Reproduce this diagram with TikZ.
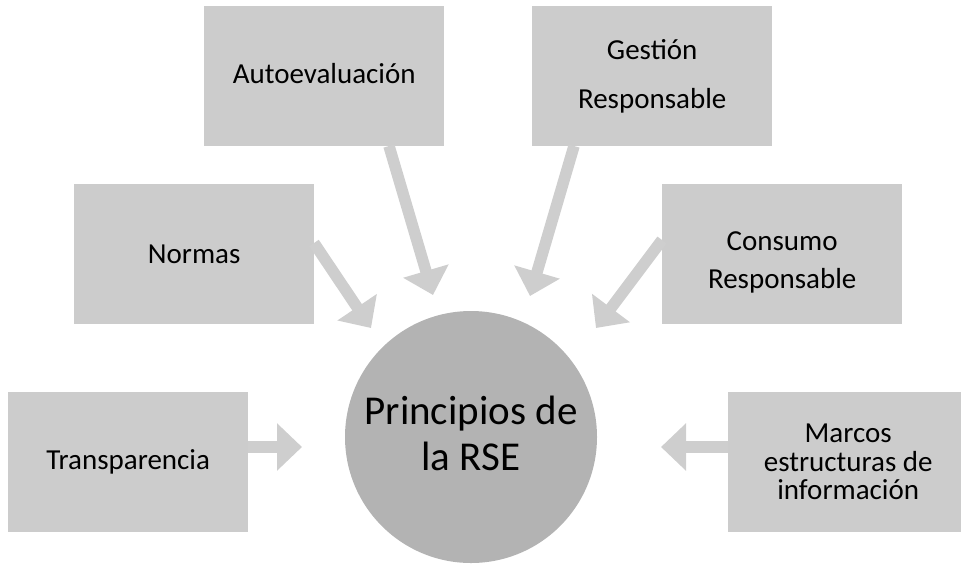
\documentclass[tikz,border=0pt]{standalone}
\usepackage{fontspec}
\setmainfont{Carlito}
\usetikzlibrary{arrows.meta}
\definecolor{boxgray}{RGB}{204,204,204}
\definecolor{circgray}{RGB}{179,179,179}
\definecolor{arrgray}{RGB}{206,206,206}
\begin{document}
\begin{tikzpicture}[x=1pt,y=-1pt,
  box/.style={fill=boxgray, draw=none, minimum width=240pt, minimum height=140pt,
    inner sep=0pt, align=center, anchor=north west, text=black,
    font=\fontsize{29}{28.5}\selectfont},
  widebox/.style={box, font=\fontsize{29}{49}\selectfont},
  hub/.style={circle, fill=circgray, draw=none, minimum size=252pt, inner sep=0pt,
    align=center, font=\fontsize{41}{46}\selectfont},
  arr/.style={draw=arrgray, line width=11.5pt,
    -{Triangle[length=25pt,width=46pt]}}]
\useasboundingbox (0,0) rectangle (961,563);

% hub
\node[hub] (hubc) at (471,437) {};
\node[align=center, font=\fontsize{41}{46}\selectfont, inner sep=0pt] (hubt) at (471,433) {Principios de\\la RSE};

% boxes
\node[box] (trans) at (8,392) {Transparencia};
\node[box] (norm) at (74,184) {Normas};
\node[box] (auto) at (204,6) {\raisebox{3pt}[\height][\depth]{Autoevaluación}};
\node[widebox] (gest) at (532,6) {Gestión\\Responsable};
\node[box] (cons) at (662,184) {\raisebox{-8pt}[\height][\depth]{\fontsize{29}{38}\selectfont\begin{tabular}{@{}c@{}}Consumo\\Responsable\end{tabular}}};
\node[box] (marc) at (728,392) {Marcos\\estructuras de\\información};

% arrow ends
\coordinate (s1) at (248,447);  \coordinate (t1) at (302,447);
\coordinate (s2) at (314,243);  \coordinate (t2) at (371,328);
\coordinate (s3) at (389,146);  \coordinate (t3) at (433,295);
\coordinate (s4) at (574,146);  \coordinate (t4) at (530,296);
\coordinate (s5) at (662,240);  \coordinate (t5) at (596,328);
\coordinate (s6) at (728,447);  \coordinate (t6) at (661,447);

\draw[arr] (trans.east |- s1) -- (t1);
\draw[arr] (s2) -- (t2);
\draw[arr] (s3) -- (t3);
\draw[arr] (s4) -- (t4);
\draw[arr] (s5) -- (t5);
\draw[arr] (marc.west |- s6) -- (t6);
\end{tikzpicture}
\end{document}
